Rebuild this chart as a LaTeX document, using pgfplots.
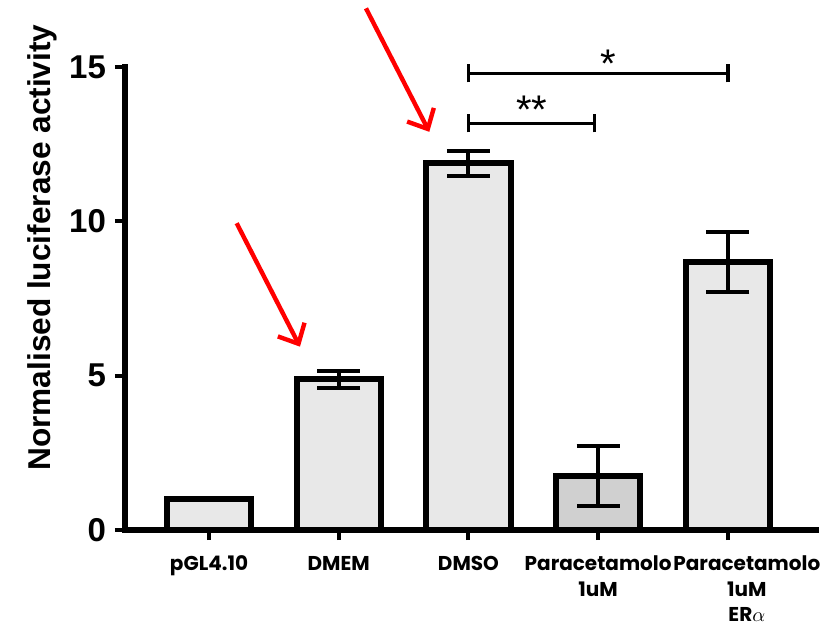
\documentclass[border=0pt]{standalone}
\usepackage{pgfplots}
\pgfplotsset{compat=1.18}
\usepackage{fontspec}
\setmainfont{Liberation Sans}
\newfontfamily\xfont{Poppins}
\usetikzlibrary{arrows.meta}
\definecolor{barlight}{HTML}{E8E8E8}
\definecolor{bardark}{HTML}{D0D0D0}
\begin{document}
\begin{tikzpicture}
\useasboundingbox (-62.5pt,-48.5pt) rectangle (356.5pt,265pt);
\begin{axis}[
  scale only axis, width=345.5pt, height=231.5pt,
  xmin=-0.648, xmax=4.68, ymin=0, ymax=15,
  axis x line*=bottom, axis y line*=left,
  axis line style={line width=2.75pt, line cap=rect},
  clip=false,
  xtick={0,1,2,3,4},
  xticklabels={pGL4.10, DMEM, DMSO, {Paracetamolo\\1uM}, {\hspace*{19pt}Paracetamolo\\\hspace*{19pt}1uM\\\hspace*{19pt}ER$\alpha$}},
  ytick={0,5,10,15},
  tick align=outside,
  major tick length=5pt,
  every tick/.style={line width=2pt, black},
  /pgf/number format/assume math mode=true,
  yticklabel style={font=\bfseries\fontsize{16.5}{16.5}\selectfont, xshift=-1pt},
  xticklabel style={font=\xfont\bfseries\fontsize{10}{12.6}\selectfont, align=center, anchor=north, yshift=-4.5pt},
  ylabel={Normalised luciferase activity},
  ylabel style={font=\bfseries\fontsize{15.8}{16}\selectfont, at={(axis description cs:-0.12,0.61)}, anchor=center, rotate=0},
]
\addplot[ybar, bar shift=0pt, bar width=0.65, fill=barlight, draw=black, line width=3pt]
  table[x=x, y=y] {
x y
0 1.00
};
\addplot[ybar, bar shift=0pt, bar width=0.65, fill=barlight, draw=black, line width=3pt,
  error bars/.cd, y dir=both, y explicit,
  error bar style={line width=2pt, black},
  error mark options={rotate=90, mark size=10.75pt, line width=2pt, black}]
  table[x=x, y=y, y error=e] {
x y e
1 4.88 0.28
2 11.88 0.40
4 8.68 0.96
};
\addplot[ybar, bar shift=0pt, bar width=0.65, fill=bardark, draw=black, line width=3pt,
  error bars/.cd, y dir=both, y explicit,
  error bar style={line width=2pt, black},
  error mark options={rotate=90, mark size=10.75pt, line width=2pt, black}]
  table[x=x, y=y, y error=e] {
x y e
3 1.75 0.97
};
% significance brackets
\draw[line width=1.7pt] (axis cs:2,14.79) -- (axis cs:4,14.79);
\draw[line width=1.7pt] ([yshift=-4.5pt]axis cs:2,14.79) -- ([yshift=4.5pt]axis cs:2,14.79);
\draw[line width=1.7pt] ([yshift=-4.5pt]axis cs:4,14.79) -- ([yshift=4.5pt]axis cs:4,14.79);
\draw[line width=1.7pt] (axis cs:2,13.17) -- (axis cs:2.97,13.17);
\draw[line width=1.7pt] ([yshift=-4.5pt]axis cs:2,13.17) -- ([yshift=4.5pt]axis cs:2,13.17);
\draw[line width=1.7pt] ([yshift=-4.5pt]axis cs:2.97,13.17) -- ([yshift=4.5pt]axis cs:2.97,13.17);
\node[font=\fontsize{20}{20}\selectfont, inner sep=0pt, anchor=north] at (axis cs:3.08,15.55) {*};
\node[font=\fontsize{20}{20}\selectfont, inner sep=0pt, anchor=north] at (axis cs:2.49,14.08) {**};
% red arrows
\draw[red, line width=2.2pt, -{Straight Barb[length=8pt,width=15pt]}] (axis cs:0.213,9.94) -- (axis cs:0.701,5.94);
\draw[red, line width=2.2pt, -{Straight Barb[length=8pt,width=15pt]}] (axis cs:1.21,16.9) -- (axis cs:1.698,12.90);
\end{axis}
\end{tikzpicture}
\end{document}
